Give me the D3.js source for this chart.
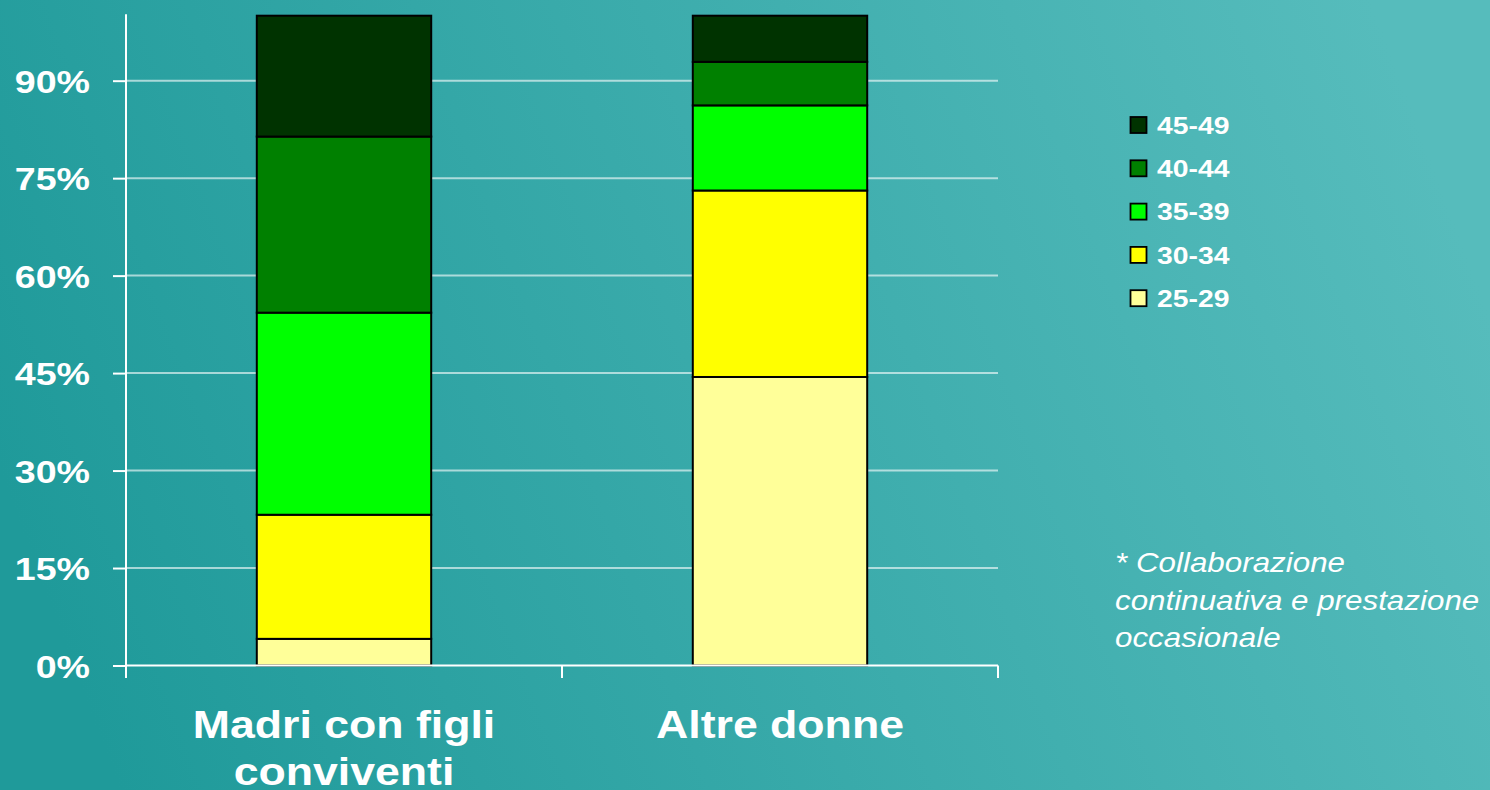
<!DOCTYPE html>
<html>
<head>
<meta charset="utf-8">
<script src="https://cdn.jsdelivr.net/npm/d3@7"></script>
<style>
  html, body { margin: 0; padding: 0; overflow: hidden; }
  svg { display: block; font-family: "Liberation Sans", Arial, sans-serif; }
</style>
</head>
<body>
<svg id="chart" width="1490" height="790"></svg>
<script>
// ---- data ----
const categories = ["Madri con figli conviventi", "Altre donne"];
const categoryLines = [["Madri con figli", "conviventi"], ["Altre donne"]];
const ageGroups = ["25-29", "30-34", "35-39", "40-44", "45-49"];
const share_25_29 = [0.041, 0.444];
const share_30_34 = [0.191, 0.287];
const share_35_39 = [0.311, 0.131];
const share_40_44 = [0.271, 0.067];
const share_45_49 = [0.186, 0.071];
const yTickValues = [0, 0.15, 0.30, 0.45, 0.60, 0.75, 0.90];
const noteLines = ["* Collaborazione", "continuativa e prestazione", "occasionale"];
const colors = ["#ffff99", "#ffff00", "#00ff00", "#008000", "#003300"];

const rows = categories.map((c, i) => ({
  cat: c,
  "25-29": share_25_29[i], "30-34": share_30_34[i], "35-39": share_35_39[i],
  "40-44": share_40_44[i], "45-49": share_45_49[i]
}));

const svg = d3.select("#chart");
const W = 1490, H = 790;
const stretch = 1.175;

// background gradient
const defs = svg.append("defs");
const grad = defs.append("linearGradient").attr("id", "bg").attr("x1", 0).attr("y1", 0.6).attr("x2", 1).attr("y2", 0.4);
grad.append("stop").attr("offset", "0%").attr("stop-color", "#1f9a9a");
grad.append("stop").attr("offset", "100%").attr("stop-color", "#56bcbc");
svg.append("rect").attr("width", W).attr("height", H).attr("fill", "url(#bg)");

// scales
const x = d3.scaleBand().domain(categories).range([126, 998]).paddingInner(0.6).paddingOuter(0.3);
const y = d3.scaleLinear().domain([0, 1]).range([665.5, 15.7]);
const color = d3.scaleOrdinal().domain(ageGroups).range(colors);

// gridlines
svg.append("g").selectAll("line").data(yTickValues.filter(d => d > 0)).join("line")
  .attr("x1", 126).attr("x2", 998)
  .attr("y1", d => y(d)).attr("y2", d => y(d))
  .attr("stroke", "rgba(255,255,255,0.6)").attr("stroke-width", 2);

// bars
const stacked = d3.stack().keys(ageGroups)(rows);
svg.append("g").selectAll("g").data(stacked).join("g")
  .attr("fill", d => color(d.key))
  .selectAll("rect").data(d => d).join("rect")
  .attr("x", d => x(d.data.cat))
  .attr("width", x.bandwidth())
  .attr("y", d => y(d[1]))
  .attr("height", d => y(d[0]) - y(d[1]))
  .attr("stroke", "#000").attr("stroke-width", 2);

// y axis
const yAxis = svg.append("g").attr("transform", "translate(126,0)")
  .call(d3.axisLeft(y).tickValues(yTickValues).tickFormat(d3.format(".0%")).tickSize(13).tickSizeOuter(0));
yAxis.select(".domain").remove();
yAxis.selectAll(".tick line").attr("stroke", "#fff").attr("stroke-width", 2);
yAxis.selectAll(".tick text")
  .attr("x", 0).attr("dy", "0.36em")
  .attr("transform", `translate(-36,0) scale(${stretch},1)`)
  .attr("fill", "#fff").attr("font-size", 32).attr("font-weight", "bold")
  .attr("font-family", "Liberation Sans, Arial, sans-serif");
svg.append("line").attr("x1", 126).attr("x2", 126).attr("y1", y(1) - 1.5).attr("y2", 678)
  .attr("stroke", "#fff").attr("stroke-width", 2);

// x axis
svg.append("line").attr("x1", 126).attr("x2", 998).attr("y1", y(0)).attr("y2", y(0))
  .attr("stroke", "#fff").attr("stroke-width", 2);
const boundaries = d3.range(categories.length + 1).map(i => x.range()[0] + i * x.step());
svg.append("g").selectAll("line").data(boundaries).join("line")
  .attr("x1", d => d).attr("x2", d => d).attr("y1", y(0)).attr("y2", 678)
  .attr("stroke", "#fff").attr("stroke-width", 2);

// category labels
const catG = svg.append("g");
categories.forEach((c, i) => {
  const cx = x(c) + x.bandwidth() / 2;
  categoryLines[i].forEach((line, j) => {
    catG.append("text")
      .attr("transform", `translate(${cx},${738 + j * 47}) scale(${stretch},1)`)
      .attr("text-anchor", "middle")
      .attr("fill", "#fff").attr("font-size", 38).attr("font-weight", "bold")
      .text(line);
  });
});

// legend
const legend = svg.append("g");
const legendOrder = ageGroups.slice().reverse();
legendOrder.forEach((k, i) => {
  const cy = 125 + i * 43.3;
  legend.append("rect").attr("x", 1130.5).attr("y", cy - 8).attr("width", 16).attr("height", 16)
    .attr("fill", color(k)).attr("stroke", "#000").attr("stroke-width", 1.8);
  legend.append("text")
    .attr("transform", `translate(1157,${cy + 8.6}) scale(1.18,1)`)
    .attr("fill", "#fff").attr("font-size", 24).attr("font-weight", "bold")
    .text(k);
});

// note
noteLines.forEach((line, i) => {
  svg.append("text")
    .attr("transform", `translate(1115,${572 + i * 37.5}) scale(1.12,1)`)
    .attr("fill", "#fff").attr("font-size", 28).attr("font-style", "italic")
    .text(line);
});
</script>
</body>
</html>
